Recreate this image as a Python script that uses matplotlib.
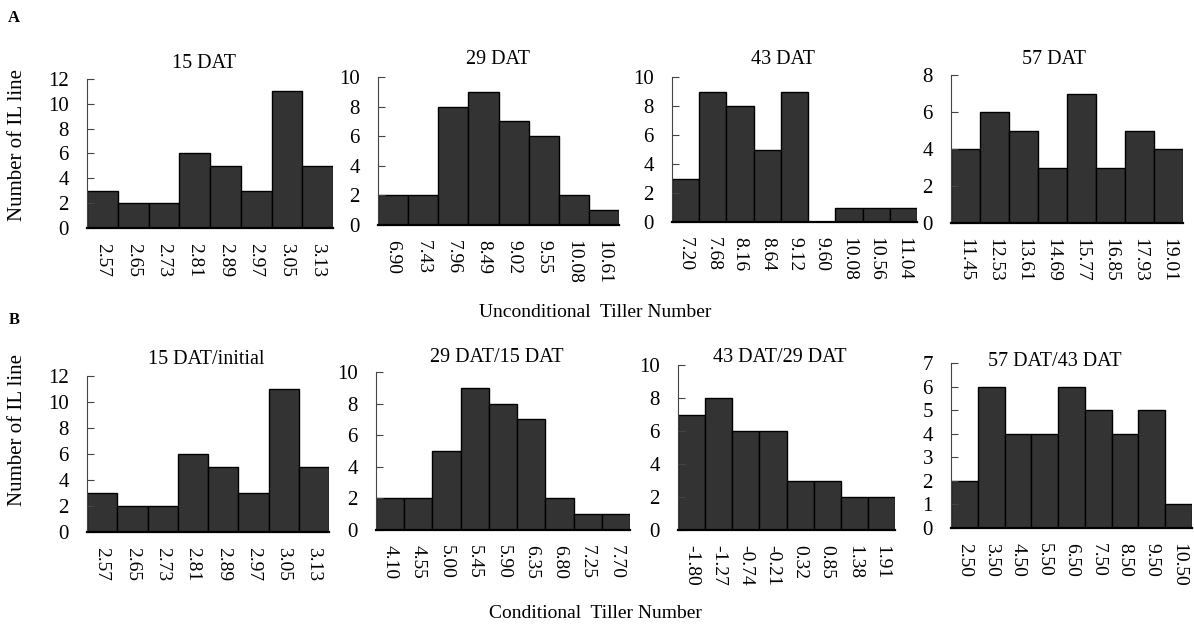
import matplotlib
matplotlib.use("Agg")
from matplotlib import pyplot as plt
import numpy as np

plt.rcParams['font.family'] = ['Liberation Serif', 'DejaVu Serif']

# row A: unconditional tiller number
a_titles = ["15 DAT", "29 DAT", "43 DAT", "57 DAT"]
a_labels = [
    ["2.57", "2.65", "2.73", "2.81", "2.89", "2.97", "3.05", "3.13"],
    ["6.90", "7.43", "7.96", "8.49", "9.02", "9.55", "10.08", "10.61"],
    ["7.20", "7.68", "8.16", "8.64", "9.12", "9.60", "10.08", "10.56", "11.04"],
    ["11.45", "12.53", "13.61", "14.69", "15.77", "16.85", "17.93", "19.01"],
]
a_counts = [
    [3, 2, 2, 6, 5, 3, 11, 5],
    [2, 2, 8, 9, 7, 6, 2, 1],
    [3, 9, 8, 5, 9, 0, 1, 1, 1],
    [4, 6, 5, 3, 7, 3, 5, 4],
]
a_ymax = [12, 10, 10, 8]
a_ystep = [2, 2, 2, 2]

# row B: conditional tiller number
b_titles = ["15 DAT/initial", "29 DAT/15 DAT", "43 DAT/29 DAT", "57 DAT/43 DAT"]
b_labels = [
    ["2.57", "2.65", "2.73", "2.81", "2.89", "2.97", "3.05", "3.13"],
    ["4.10", "4.55", "5.00", "5.45", "5.90", "6.35", "6.80", "7.25", "7.70"],
    ["-1.80", "-1.27", "-0.74", "-0.21", "0.32", "0.85", "1.38", "1.91"],
    ["2.50", "3.50", "4.50", "5.50", "6.50", "7.50", "8.50", "9.50", "10.50"],
]
b_counts = [
    [3, 2, 2, 6, 5, 3, 11, 5],
    [2, 2, 5, 9, 8, 7, 2, 1, 1],
    [7, 8, 6, 6, 3, 3, 2, 2],
    [2, 6, 4, 4, 6, 5, 4, 5, 1],
]
b_ymax = [12, 10, 10, 7]
b_ystep = [2, 2, 2, 1]

W, H = 1194, 628
fig = plt.figure(figsize=(W / 100, H / 100), dpi=100)

# axes boxes in pixels: left, right, top, bottom
a_boxes = [(87, 333, 79, 228), (378, 619, 77, 225), (672, 917, 77, 222), (951, 1183, 75, 223)]
b_boxes = [(87, 329, 376, 532), (376, 630, 372, 530), (678, 895, 365, 530), (951, 1192, 363, 528)]
a_title_pos = [(204, 63), (498, 59), (783, 59), (1054, 60)]
b_title_pos = [(206, 360), (497, 358), (780, 358), (1055, 361)]


def draw(box, labels, counts, ymax, ystep, title, tpos):
    l, r, t, b = box
    ax = fig.add_axes([l / W, 1 - b / H, (r - l) / W, (b - t) / H])
    x = np.arange(len(counts))
    ax.bar(x, counts, width=1.0, color="#333333", edgecolor="black", linewidth=1.0)
    ax.set_xlim(-0.5, len(counts) - 0.5)
    ax.set_ylim(0, ymax)
    ax.set_yticks(np.arange(0, ymax + 1, ystep))
    ax.set_xticks(x)
    ax.set_xticklabels(labels, rotation=270, fontsize=14)
    ax.tick_params(axis="x", length=0, pad=11)
    ax.tick_params(axis="y", direction="in", length=5, labelsize=15, pad=13, color="#444444")
    ax.spines["top"].set_visible(False)
    ax.spines["right"].set_visible(False)
    ax.spines["left"].set_color("#444444")
    ax.spines["bottom"].set_linewidth(1.6)
    fig.text(tpos[0] / W, 1 - tpos[1] / H, title, ha="center", va="center", fontsize=14.5)
    return ax


for i in range(4):
    draw(a_boxes[i], a_labels[i], a_counts[i], a_ymax[i], a_ystep[i], a_titles[i], a_title_pos[i])
    draw(b_boxes[i], b_labels[i], b_counts[i], b_ymax[i], b_ystep[i], b_titles[i], b_title_pos[i])

fig.text(14 / W, 1 - 18 / H, "A", fontsize=12, fontweight="bold", ha="center", va="center")
fig.text(14 / W, 1 - 320 / H, "B", fontsize=12, fontweight="bold", ha="center", va="center")
fig.text(18 / W, 1 - 145 / H, "Number of IL line", rotation=90, fontsize=15, ha="center", va="center")
fig.text(18 / W, 1 - 430 / H, "Number of IL line", rotation=90, fontsize=15, ha="center", va="center")
fig.text(595 / W, 1 - 313 / H, "Unconditional  Tiller Number", fontsize=14, ha="center", va="center")
fig.text(595 / W, 1 - 613 / H, "Conditional  Tiller Number", fontsize=14, ha="center", va="center")

plt.savefig("out.png", dpi=100)
plt.close()
